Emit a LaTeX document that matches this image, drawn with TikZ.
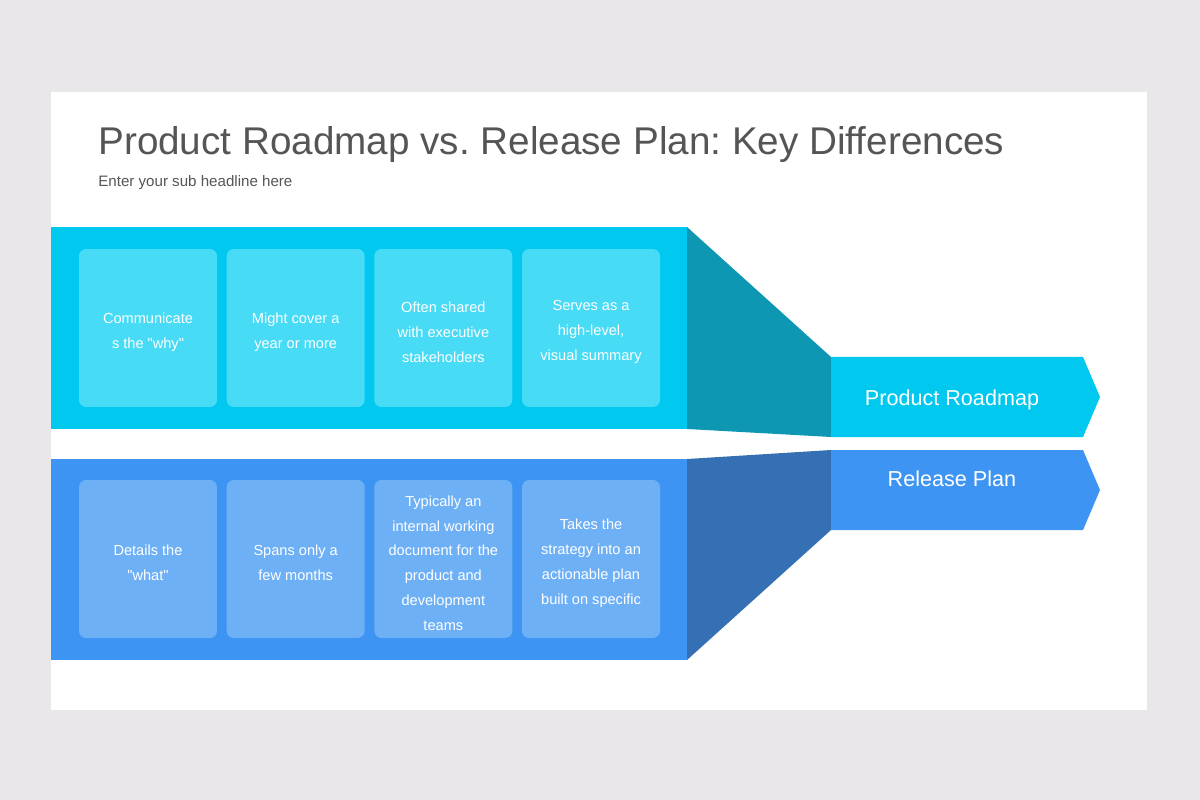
\documentclass[tikz,border=0pt]{standalone}
\usepackage{fontspec}
\setmainfont{Liberation Sans}
\frenchspacing
\usetikzlibrary{positioning}
\definecolor{pageGray}{HTML}{E9E7E9}
\definecolor{titleGray}{HTML}{555555}
\definecolor{roadCyan}{HTML}{00C8EF}
\definecolor{roadCard}{HTML}{48DBF6}
\definecolor{roadDark}{HTML}{0E97B2}
\definecolor{relBlue}{HTML}{3D94F2}
\definecolor{relCard}{HTML}{6EB0F6}
\definecolor{relDark}{HTML}{3670B4}

\begin{document}
\begin{tikzpicture}[x=0.02cm, y=-0.02cm,
    card/.style={rounded corners=4pt, minimum width=2.76cm, minimum height=3.16cm},
    cardtext/.style={text=white, align=center, yshift=-2.4pt, font=\fontsize{8.3}{14.2}\selectfont},
    tag/.style={text=white, font=\fontsize{12.3}{15}\selectfont},
    node distance=0.18cm]
    \useasboundingbox (0,0) rectangle (1200,800);
    % Slide
    \fill[pageGray] (0,0) rectangle (1200,800);
    \fill[white] (51,92) rectangle (1147,710);
    \node[anchor=base west, text=titleGray, font=\fontsize{22}{26}\selectfont, inner sep=0pt] (title) at (98,155) {Product Roadmap vs. Release Plan: Key Differences};
    \node[anchor=base west, text=titleGray, font=\fontsize{8.6}{10}\selectfont, inner sep=0pt] (subtitle) at (98,187) {Enter your sub headline here};
    % Product Roadmap band
    \fill[roadCyan] (51,227) rectangle (687,429);
    \fill[roadDark] (687,227) -- (831,357) -- (831,437) -- (687,429) -- cycle;
    \fill[roadCyan] (831,357) -- (1083,357) -- (1100,397) -- (1083,437) -- (831,437) -- cycle;
    \node[tag] (roadmap) at (952,400) {Product Roadmap};
    \node[card, fill=roadCard, label={[cardtext]center:{Communicate\\s the \textquotedbl why\textquotedbl}}] (why) at (148,328) {};
    \node[card, fill=roadCard, right=of why, label={[cardtext]center:{Might cover a\\year or more}}] (year) {};
    \node[card, fill=roadCard, right=of year, label={[cardtext]center:{Often shared\\with executive\\stakeholders}}] (shared) {};
    \node[card, fill=roadCard, right=of shared, label={[cardtext]center:{Serves as a\\high-level,\\visual summary}}] (summary) {};
    % Release Plan band
    \fill[relBlue] (51,459) rectangle (687,660);
    \fill[relDark] (687,459) -- (831,450) -- (831,530) -- (687,660) -- cycle;
    \fill[relBlue] (831,450) -- (1083,450) -- (1100,490) -- (1083,530) -- (831,530) -- cycle;
    \node[tag] (release) at (952,479) {Release Plan};
    \node[card, fill=relCard, label={[cardtext]center:{Details the\\\textquotedbl what\textquotedbl}}] (what) at (148,559) {};
    \node[card, fill=relCard, right=of what, label={[cardtext]center:{Spans only a\\few months}}] (months) {};
    \node[card, fill=relCard, right=of months, label={[cardtext]center:{Typically an\\internal working\\document for the\\product and\\development\\teams}}] (internal) {};
    \node[card, fill=relCard, right=of internal, label={[cardtext]center:{Takes the\\strategy into an\\actionable plan\\built on specific}}] (strategy) {};
\end{tikzpicture}
\end{document}
